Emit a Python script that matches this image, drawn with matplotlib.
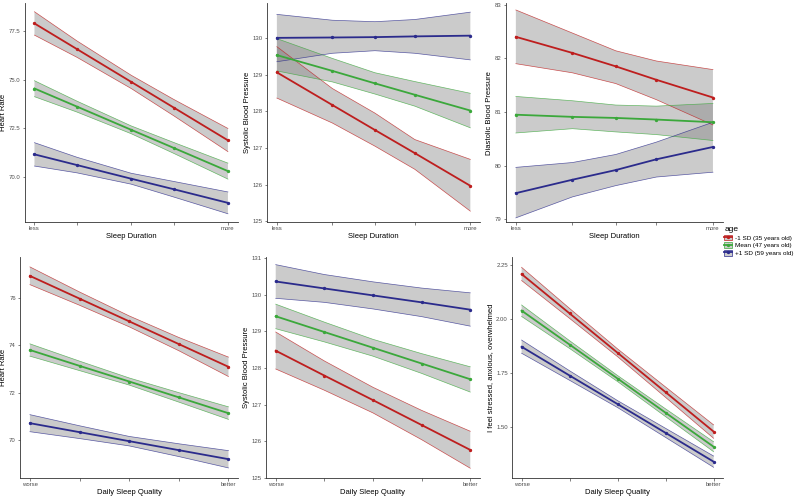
"""Predicted cardiovascular / stress outcomes by sleep, split by age group."""

import matplotlib

matplotlib.use("Agg")
import matplotlib.pyplot as plt
from matplotlib.lines import Line2D
from matplotlib.patches import Patch

plt.rcParams["font.family"] = ["Liberation Sans", "DejaVu Sans"]

# ---- data ------------------------------------------------------------------
groups = ["-1 SD (35 years old)", "Mean (47 years old)", "+1 SD (59 years old)"]
colors = ["#BE1E1E", "#3BA83B", "#2B2B8C"]

dur_x_hr = [0.0, 0.22, 0.50, 0.72, 1.0]
dur_x = [0.0, 0.287, 0.507, 0.713, 1.0]
qual_x = [0.0, 0.25, 0.50, 0.75, 1.0]

# heart rate vs sleep duration
hr_dur_fit = [[77.89, 76.57, 74.89, 73.57, 71.89],
              [74.55, 73.62, 72.43, 71.50, 70.31],
              [71.17, 70.62, 69.92, 69.38, 68.68]]
hr_dur_lo = [[77.29, 76.15, 74.55, 73.15, 71.31],
             [74.13, 73.34, 72.23, 71.22, 69.90],
             [70.57, 70.22, 69.64, 68.98, 68.12]]
hr_dur_hi = [[78.49, 76.99, 75.23, 73.99, 72.50],
             [74.95, 73.90, 72.63, 71.78, 70.72],
             [71.77, 71.02, 70.20, 69.78, 69.24]]

# systolic BP vs sleep duration
sbp_dur_fit = [[129.06, 128.17, 127.49, 126.86, 125.97],
               [129.53, 129.10, 128.76, 128.45, 128.02],
               [130.00, 130.01, 130.02, 130.04, 130.06]]
sbp_dur_lo = [[128.36, 127.68, 127.05, 126.42, 125.28],
              [129.10, 128.80, 128.47, 128.14, 127.55],
              [129.35, 129.58, 129.65, 129.58, 129.40]]
sbp_dur_hi = [[129.76, 128.62, 127.95, 127.23, 126.69],
              [129.98, 129.44, 129.05, 128.81, 128.49],
              [130.64, 130.48, 130.44, 130.50, 130.70]]

# diastolic BP vs sleep duration
dbp_dur_fit = [[82.40, 82.10, 81.85, 81.60, 81.27],
               [80.95, 80.91, 80.89, 80.86, 80.81],
               [79.49, 79.74, 79.92, 80.12, 80.35]]
dbp_dur_lo = [[81.90, 81.73, 81.53, 81.23, 80.76],
              [80.61, 80.69, 80.63, 80.58, 80.47],
              [79.03, 79.42, 79.63, 79.79, 79.88]]
dbp_dur_hi = [[82.90, 82.47, 82.14, 81.95, 81.79],
              [81.29, 81.21, 81.13, 81.11, 81.16],
              [79.97, 80.06, 80.21, 80.44, 80.81]]

# heart rate vs sleep quality
hr_qual_fit = [[76.93, 75.97, 75.01, 74.05, 73.09],
               [73.80, 73.13, 72.47, 71.80, 71.13],
               [70.71, 70.33, 69.95, 69.57, 69.19]]
hr_qual_lo = [[76.56, 75.69, 74.78, 73.77, 72.68],
              [73.54, 72.93, 72.32, 71.60, 70.87],
              [70.35, 70.06, 69.75, 69.30, 68.82]]
hr_qual_hi = [[77.31, 76.25, 75.24, 74.33, 73.50],
              [74.06, 73.33, 72.62, 72.00, 71.40],
              [71.07, 70.60, 70.15, 69.84, 69.55]]

# systolic BP vs sleep quality
sbp_qual_fit = [[128.47, 127.79, 127.12, 126.44, 125.76],
                [129.41, 128.98, 128.55, 128.12, 127.69],
                [130.36, 130.17, 129.98, 129.79, 129.59]]
sbp_qual_lo = [[127.97, 127.39, 126.77, 126.04, 125.26],
               [129.07, 128.71, 128.32, 127.85, 127.34],
               [129.90, 129.79, 129.61, 129.40, 129.14]]
sbp_qual_hi = [[128.98, 128.19, 127.47, 126.84, 126.27],
               [129.74, 129.25, 128.78, 128.39, 128.03],
               [130.82, 130.55, 130.35, 130.18, 130.05]]

# stress vs sleep quality
stress_fit = [[2.208, 2.026, 1.844, 1.662, 1.480],
              [2.039, 1.882, 1.725, 1.567, 1.410],
              [1.872, 1.739, 1.607, 1.474, 1.341]]
stress_lo = [[2.178, 2.003, 1.826, 1.638, 1.449],
             [2.012, 1.864, 1.711, 1.549, 1.387],
             [1.842, 1.717, 1.591, 1.453, 1.315]]
stress_hi = [[2.239, 2.049, 1.862, 1.686, 1.511],
             [2.065, 1.900, 1.739, 1.585, 1.433],
             [1.903, 1.761, 1.623, 1.495, 1.367]]

dur_labels = ["less", "", "", "", "more"]
qual_labels = ["worse", "", "", "", "better"]


def draw_panel(ax, x, fit, lo, hi, xlabel, ylabel, xticklabels, ylim, yticks, yfmt):
    for g in range(3):
        ax.fill_between(x, lo[g], hi[g], facecolor="#7f7f7f", alpha=0.4,
                        edgecolor="none", zorder=1)
        ax.plot(x, lo[g], color=colors[g], lw=0.5, alpha=0.75, zorder=2)
        ax.plot(x, hi[g], color=colors[g], lw=0.5, alpha=0.75, zorder=2)
        ax.plot(x, fit[g], color=colors[g], lw=1.3, marker="o", ms=1.4, zorder=3)

    ax.set_xlim(-0.05, 1.05)
    ax.set_ylim(*ylim)
    ax.set_xticks(x)
    ax.set_xticklabels(xticklabels)
    ax.set_yticks(yticks)
    ax.set_yticklabels([yfmt.format(v) for v in yticks])
    ax.set_xlabel(xlabel, fontsize=5.5, labelpad=1.5)
    ax.set_ylabel(ylabel, fontsize=5.5, labelpad=1.5)
    ax.tick_params(labelsize=4.3, colors="#4d4d4d", length=1.8, width=0.5, pad=1.2)
    for side in ("top", "right"):
        ax.spines[side].set_visible(False)
    for side in ("left", "bottom"):
        ax.spines[side].set_linewidth(0.6)
        ax.spines[side].set_color("#333333")


fig = plt.figure(figsize=(8, 4.97), dpi=100)

ax1 = fig.add_axes([0.031, 0.553, 0.266, 0.441])
ax2 = fig.add_axes([0.334, 0.553, 0.266, 0.441])
ax3 = fig.add_axes([0.6325, 0.553, 0.271, 0.441])
ax4 = fig.add_axes([0.025, 0.038, 0.273, 0.445])
ax5 = fig.add_axes([0.3325, 0.038, 0.2675, 0.445])
ax6 = fig.add_axes([0.64, 0.038, 0.264, 0.445])

draw_panel(ax1, dur_x_hr, hr_dur_fit, hr_dur_lo, hr_dur_hi, "Sleep Duration", "Heart Rate",
           dur_labels, (67.69, 78.94), [70, 72.5, 75, 77.5], "{:.1f}")
draw_panel(ax2, dur_x, sbp_dur_fit, sbp_dur_lo, sbp_dur_hi, "Sleep Duration",
           "Systolic Blood Pressure", dur_labels, (124.98, 130.95),
           [125, 126, 127, 128, 129, 130], "{:.0f}")
draw_panel(ax3, dur_x, dbp_dur_fit, dbp_dur_lo, dbp_dur_hi, "Sleep Duration",
           "Diastolic Blood Pressure", dur_labels, (78.95, 83.03),
           [79, 80, 81, 82, 83], "{:.0f}")
draw_panel(ax4, qual_x, hr_qual_fit, hr_qual_lo, hr_qual_hi, "Daily Sleep Quality",
           "Heart Rate", qual_labels, (68.39, 77.73), [70, 72, 74, 76], "{:.0f}")
draw_panel(ax5, qual_x, sbp_qual_fit, sbp_qual_lo, sbp_qual_hi, "Daily Sleep Quality",
           "Systolic Blood Pressure", qual_labels, (124.99, 131.03),
           [125, 126, 127, 128, 129, 130, 131], "{:.0f}")
draw_panel(ax6, qual_x, stress_fit, stress_lo, stress_hi, "Daily Sleep Quality",
           "I feel stressed, anxious, overwhelmed", qual_labels, (1.265, 2.287),
           [1.50, 1.75, 2.00, 2.25], "{:.2f}")

handles = [
    (Patch(facecolor="#cccccc", edgecolor=c, linewidth=0.5),
     Line2D([], [], color=c, lw=1.3, marker="o", ms=1.4))
    for c in colors
]
leg = fig.legend(handles, groups, title="age", loc="upper left",
                 bbox_to_anchor=(0.904, 0.548), frameon=False,
                 fontsize=4.6, title_fontsize=6.0, handlelength=1.2,
                 handleheight=1.0, handletextpad=0.4, labelspacing=0.25,
                 borderaxespad=0, borderpad=0.2)
leg._legend_box.align = "left"

fig.savefig("out.png", dpi=100)
